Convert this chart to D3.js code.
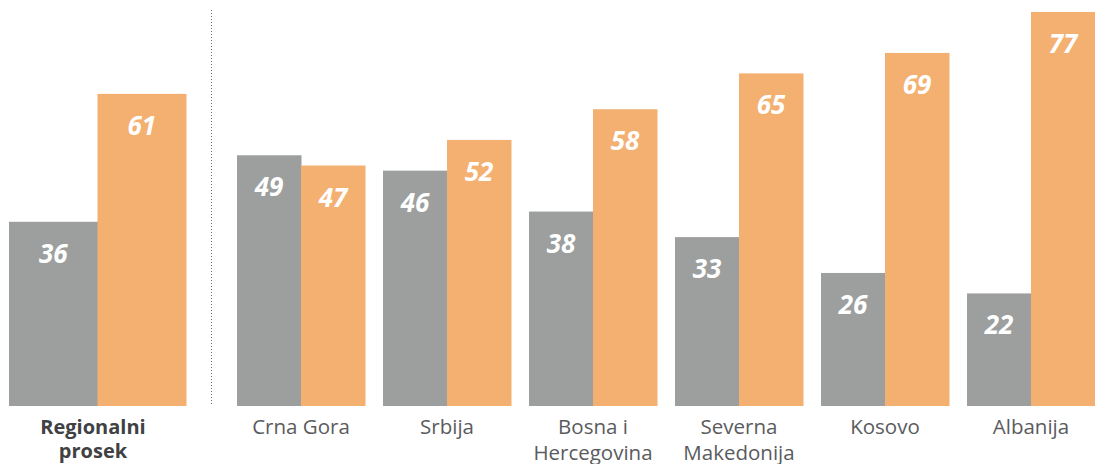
<!DOCTYPE html>
<html>
<head>
<meta charset="utf-8">
<script src="https://cdn.jsdelivr.net/npm/d3@7"></script>
<style>
  body { margin: 0; background: #fff; }
  svg { display: block; font-family: "Open Sans", sans-serif; }
  .val { fill: #fff; font-weight: 700; font-style: italic; font-size: 26px; text-anchor: middle; }
  .cat { fill: #5a5b5d; font-size: 20.5px; text-anchor: middle; }
  .cat.bold { font-weight: 700; fill: #404143; font-size: 20px; }
</style>
</head>
<body>
<div id="chart"></div>
<script>
// regional average
const regionLabel = ["Regionalni", "prosek"];
const regionValues = [36, 61];

// countries
const countries = ["Crna Gora", "Srbija", "Bosna i Hercegovina", "Severna Makedonija", "Kosovo", "Albanija"];
const countryLines = [["Crna Gora"], ["Srbija"], ["Bosna i", "Hercegovina"], ["Severna", "Makedonija"], ["Kosovo"], ["Albanija"]];
const seriesGray = [49, 46, 38, 33, 26, 22];
const seriesOrange = [47, 52, 58, 65, 69, 77];

const seriesKeys = ["gray", "orange"];
const colors = { gray: "#9c9f9e", orange: "#f3b071" };

function BarChart(container) {
    this.container = container;
    this.width = 1095;
    this.height = 464;
    this.baseline = 406;
    this.labelOffset = 41;
    this.svg = null;
}

BarChart.prototype = {
    constructor: BarChart,

    init: function() {
        let self = this;

        self.svg = d3.select("#" + self.container).append("svg")
            .attr("width", self.width)
            .attr("height", self.height);

        let y = d3.scaleLinear().domain([0, 77]).range([self.baseline, 12]);

        let xRegion = d3.scaleBand().domain(seriesKeys).range([9, 186]);

        let x = d3.scaleBand().domain(countries).range([228, 1104])
            .paddingInner(18 / 146).paddingOuter(9 / 146);
        let xSub = d3.scaleBand().domain(seriesKeys).range([0, x.bandwidth()]);

        // regional average bars
        let reg = self.svg.append("g").attr("class", "region");
        let regData = seriesKeys.map((k, i) => ({ key: k, value: regionValues[i] }));

        reg.selectAll("rect").data(regData).enter().append("rect")
            .attr("x", d => xRegion(d.key))
            .attr("y", d => y(d.value))
            .attr("width", xRegion.bandwidth() + 0.5)
            .attr("height", d => self.baseline - y(d.value))
            .attr("fill", d => colors[d.key]);

        reg.selectAll("text.val").data(regData).enter().append("text")
            .attr("class", "val")
            .attr("x", d => xRegion(d.key) + xRegion.bandwidth() / 2)
            .attr("y", d => y(d.value) + self.labelOffset)
            .text(d => d.value);

        // label sits centred on the left column (0..186), not the bars
        let regCenter = xRegion.range()[1] / 2;
        reg.append("text")
            .attr("class", "cat bold")
            .attr("y", 434)
            .selectAll("tspan").data(regionLabel).enter().append("tspan")
            .attr("x", regCenter)
            .attr("dy", (d, i) => i ? 24 : 0)
            .text(d => d);

        // separator
        self.svg.append("line")
            .attr("x1", 211.5).attr("x2", 211.5)
            .attr("y1", 10).attr("y2", self.baseline)
            .attr("stroke", "#6d6e70")
            .attr("stroke-width", 1)
            .attr("stroke-dasharray", "1,2");

        // country groups
        let groups = self.svg.selectAll(".group")
            .data(countries)
            .enter().append("g")
            .attr("class", "group")
            .attr("transform", d => "translate(" + x(d) + ",0)");

        let barData = (d, i) => [
            { key: "gray", value: seriesGray[i] },
            { key: "orange", value: seriesOrange[i] }
        ];

        groups.selectAll("rect")
            .data(barData)
            .enter().append("rect")
            .attr("x", d => xSub(d.key))
            .attr("y", d => y(d.value))
            .attr("width", xSub.bandwidth() + 0.5)
            .attr("height", d => self.baseline - y(d.value))
            .attr("fill", d => colors[d.key]);

        groups.selectAll("text.val")
            .data(barData)
            .enter().append("text")
            .attr("class", "val")
            .attr("x", d => xSub(d.key) + xSub.bandwidth() / 2)
            .attr("y", d => y(d.value) + self.labelOffset)
            .text(d => d.value);

        groups.append("text")
            .attr("class", "cat")
            .attr("y", 434)
            .selectAll("tspan")
            .data((d, i) => countryLines[i])
            .enter().append("tspan")
            .attr("x", x.bandwidth() / 2)
            .attr("dy", (d, i) => i ? 26 : 0)
            .text(d => d);
    }
};

new BarChart("chart").init();
</script>
</body>
</html>
